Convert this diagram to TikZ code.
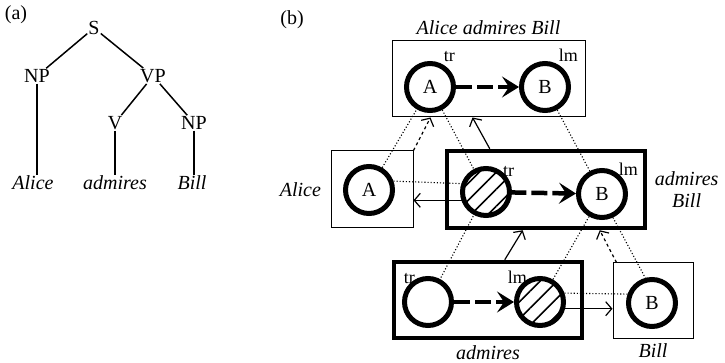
\documentclass[tikz,border=0pt]{standalone}
\usepackage{fontspec}
\setmainfont{Liberation Serif}
\usetikzlibrary{arrows.meta, patterns.meta, positioning}

\newcommand{\rolefont}{\fontsize{18}{20}\selectfont}

\tikzset{
  role/.style={circle, draw, line width=5pt, minimum size=47pt, inner sep=0pt},
  hatched/.style={role, pattern={Lines[angle=45, distance=12pt, line width=1.6pt]}},
  rolelabel/.style={font=\rolefont, inner sep=1pt},
  thinbox/.style={draw, line width=1pt, inner sep=0pt},
  thickbox/.style={draw, line width=4.5pt, inner sep=0pt},
  word/.style={font=\fontsize{20}{22}\selectfont\itshape},
  profile/.style={line width=4.5pt, dash pattern=on 16pt off 5pt, -{Stealth[length=17pt, width=21pt, inset=7pt]}},
  corr/.style={line width=1.1pt, dotted},
  elab/.style={line width=1.2pt, -{Straight Barb[length=6pt, width=14pt]}},
  elabdash/.style={elab, dashed},
  branch/.style={line width=1.5pt}
}

\begin{document}
\begin{tikzpicture}[x=1pt, y=-1pt, font=\fontsize{20}{22}\selectfont]
  \useasboundingbox (0,0) rectangle (725,363);

  % (a) phrase structure tree
  \node (pa) at (16,15) {(a)};
  \node[inner sep=1pt] (S) at (94,28) {S};
  \node[inner sep=1pt] (np1) at (37,76) {NP};
  \node[inner sep=1pt] (vp) at (153,76) {VP};
  \node[inner sep=1pt] (v) at (115,123) {V};
  \node[inner sep=1pt] (np2) at (194,123) {NP};
  \node[word, inner sep=1pt] (tAlice) at (33,183) {Alice};
  \node[word, inner sep=1pt] (tAdmires) at (115,183) {admires};
  \node[word, inner sep=1pt] (tBill) at (192,183) {Bill};
  \draw[branch] (S) -- (np1);
  \draw[branch] (S) -- (vp);
  \draw[branch] (vp) -- (v);
  \draw[branch] (vp) -- (np2);
  \draw[branch] (np1.south) -- (np1.south |- tAlice.north);
  \draw[branch] (v.south) -- (v.south |- tAdmires.north);
  \draw[branch] (np2.south) -- (np2.south |- tBill.north);

  % (b) composite structure
  \node (pb) at (292,20) {(b)};

  % top: Alice admires Bill
  \node[thinbox, minimum width=193pt, minimum height=76pt] (wBox) at (488.5,79) {};
  \node[word, above=2pt of wBox] {Alice admires Bill};
  \node[role, label={[rolelabel, label distance=1pt]62:tr}] (wA) at (430,87) {A};
  \node[role, label={[rolelabel, label distance=1pt]62:lm}] (wB) at (545,87) {B};
  \draw[profile] (wA) -- (wB);

  % middle: Alice + admires Bill
  \node[thinbox, minimum width=82pt, minimum height=77pt] (aBox) at (372,189.5) {};
  \node[word, left=6pt of aBox] {Alice};
  \node[role] (aA) at (369,190) {A};
  \node[thickbox, minimum width=198pt, minimum height=77pt] (mBox) at (546,189.5) {};
  \node[word, right=4pt of mBox, align=center] {admires\\Bill};
  \node[hatched, label={[rolelabel, label distance=-3pt]42:tr}] (mX) at (486,192) {};
  \node[role, label={[rolelabel, label distance=-3pt]47:lm}] (mB) at (602,194) {B};
  \draw[profile] (mX) -- (mB);

  % bottom: admires + Bill
  \node[thickbox, minimum width=188pt, minimum height=76pt] (vBox) at (488,300) {};
  \node[word, below=2pt of vBox] {admires};
  \node[role, label={[rolelabel, label distance=-5pt]125:tr}] (vT) at (428,302) {};
  \node[hatched, label={[rolelabel, label distance=-5pt]125:lm}] (vX) at (540,302) {};
  \draw[profile] (vT) -- (vX);
  \node[thinbox, minimum width=80pt, minimum height=75pt] (bBox) at (653,300.5) {};
  \node[word, below=2pt of bBox] {Bill};
  \node[role] (bB) at (652,303) {B};

  % correspondences
  \draw[corr] (aA) -- (wA);
  \draw[corr] (wA) -- (mX);
  \draw[corr] (wB) -- (mB);
  \draw[corr] (aA.20) -- (mX.160);
  \draw[corr] (mX) -- (vT);
  \draw[corr] (mB) -- (vX);
  \draw[corr] (mB.-65) -- (bB.105);
  \draw[corr] (vX.20) -- (bB.160);

  % elaboration and composition arrows
  \draw[elab] (mX.200) -- (mX.200 -| aBox.east);
  \draw[elab] (vX.-15) -- (vX.-15 -| bBox.west);
  \draw[elabdash] (aBox.north east) -- ([xshift=39pt]wBox.south west);
  \draw[elab] ([xshift=45pt]mBox.north west) -- ([xshift=81pt]wBox.south west);
  \draw[elab] ([xshift=113pt]vBox.north west) -- ([xshift=78pt]mBox.south west);
  \draw[elabdash] ([xshift=4pt]bBox.north west) -- ([xshift=155pt]mBox.south west);
\end{tikzpicture}
\end{document}
